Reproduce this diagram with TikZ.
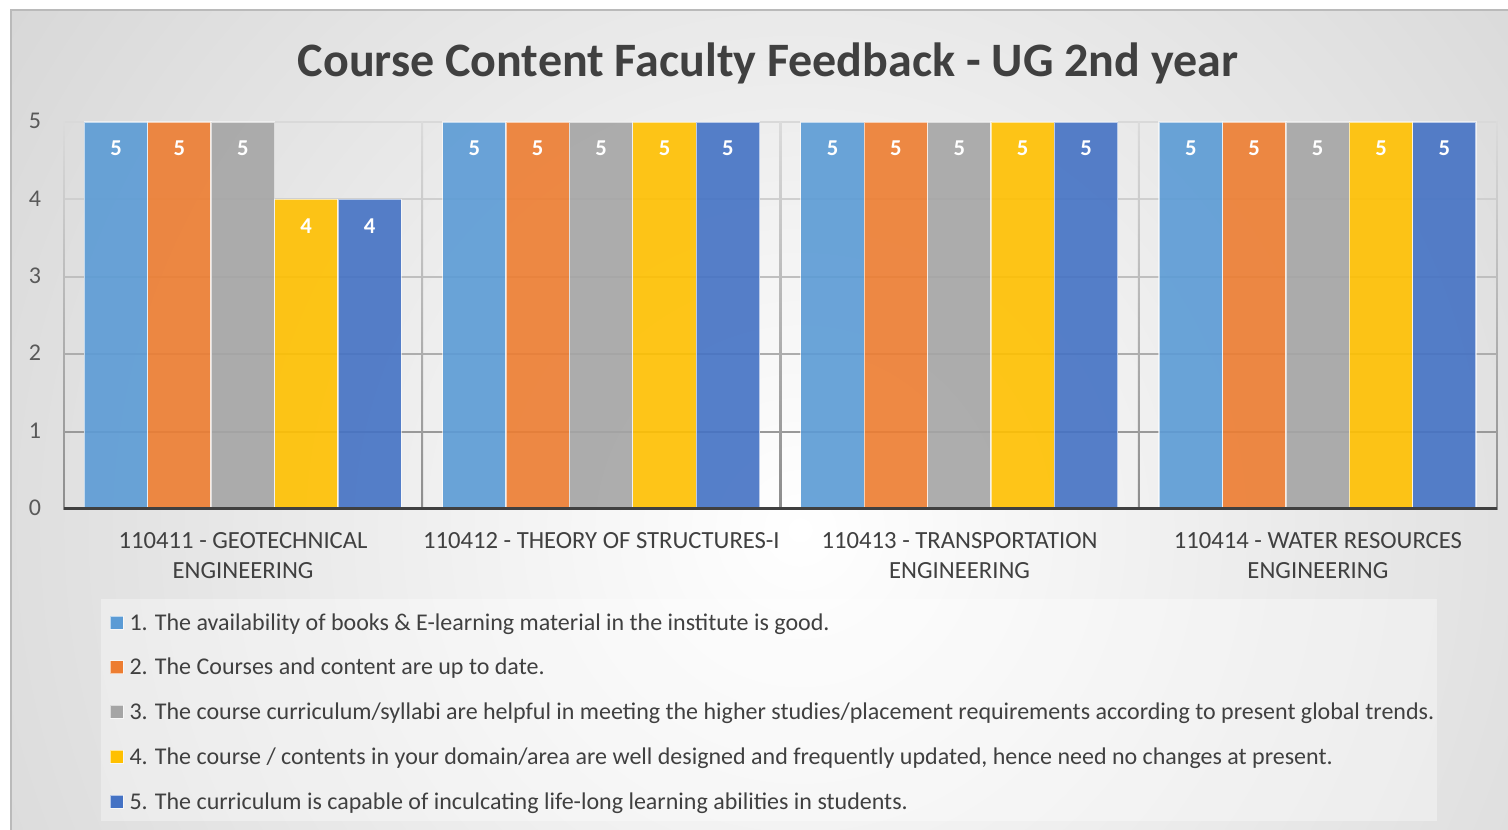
\documentclass[tikz,border=0pt]{standalone}
\usepackage{fontspec}
\setmainfont{Carlito}

\definecolor{qOne}{HTML}{5B9BD5}
\definecolor{qTwo}{HTML}{ED7D31}
\definecolor{qThree}{HTML}{A5A5A5}
\definecolor{qFour}{HTML}{FFC000}
\definecolor{qFive}{HTML}{4472C4}
\definecolor{inkDark}{HTML}{404040}
\definecolor{inkTick}{HTML}{595959}

\tikzset{every picture/.style={line width=0.75pt}}
\tikzset{
  barbox/.style={draw=white, draw opacity=0.6, line width=1, fill opacity=0.9},
  valtext/.style={inner sep=0.75pt, text=white, font=\fontsize{17}{20}\selectfont\bfseries},
  ticktext/.style={inner sep=0.75pt, text=inkTick, font=\fontsize{18}{21}\selectfont},
  cattext/.style={inner sep=0.75pt, text=inkDark, align=center, font=\fontsize{18.5}{22.5}\selectfont},
  keytext/.style={inner sep=0.75pt, text=inkDark, font=\fontsize{18}{21}\selectfont},
  keybox/.style={draw=white, draw opacity=0.6, line width=0.75},
  gridvert/.style={top color=black!14, bottom color=black!45},
}

\begin{document}
\begin{tikzpicture}[x=0.75pt,y=0.75pt,yscale=-1,xscale=1]
\useasboundingbox (0,0) rectangle (1508,830); %set diagram left start at 0, and has height of 830

%Shape: Chart background
\begin{scope}
\clip (11,10) rectangle (1508,830);
\shade [inner color=white, outer color=black!26] (800,530) circle [radius=1600];
\end{scope}
%Straight Lines: chart frame
\draw [color=black!27, line width=1.2] (11,830) -- (11,10) -- (1508,10) ;

%Straight Lines: horizontal grid
\draw [color=black!15, line width=1.5] (64,122) -- (1497,122) ;
\draw [color=black!19, line width=1.5] (64,199.4) -- (1497,199.4) ;
\draw [color=black!25, line width=1.5] (64,276.8) -- (1497,276.8) ;
\draw [color=black!32, line width=1.5] (64,354.2) -- (1497,354.2) ;
\draw [color=black!40, line width=1.5] (64,431.6) -- (1497,431.6) ;
%Shape: vertical grid
\shade [gridvert] (63.2,122) rectangle (64.8,509) ;
\shade [gridvert] (421.4,122) rectangle (423,509) ;
\shade [gridvert] (779.7,122) rectangle (781.3,509) ;
\shade [gridvert] (1137.9,122) rectangle (1139.5,509) ;
\shade [gridvert] (1496.2,122) rectangle (1497.8,509) ;

%Shape: Rectangle [id:bar11]
\draw [barbox, fill=qOne] (84.3,122) rectangle (147.7,509) ;
%Shape: Rectangle [id:bar12]
\draw [barbox, fill=qTwo] (147.7,122) rectangle (211.1,509) ;
%Shape: Rectangle [id:bar13]
\draw [barbox, fill=qThree] (211.1,122) rectangle (274.5,509) ;
%Shape: Rectangle [id:bar14]
\draw [barbox, fill=qFour] (274.5,199.4) rectangle (337.9,509) ;
%Shape: Rectangle [id:bar15]
\draw [barbox, fill=qFive] (337.9,199.4) rectangle (401.3,509) ;
%Shape: Rectangle [id:bar21]
\draw [barbox, fill=qOne] (442.6,122) rectangle (506,509) ;
%Shape: Rectangle [id:bar22]
\draw [barbox, fill=qTwo] (506,122) rectangle (569.4,509) ;
%Shape: Rectangle [id:bar23]
\draw [barbox, fill=qThree] (569.4,122) rectangle (632.8,509) ;
%Shape: Rectangle [id:bar24]
\draw [barbox, fill=qFour] (632.8,122) rectangle (696.2,509) ;
%Shape: Rectangle [id:bar25]
\draw [barbox, fill=qFive] (696.2,122) rectangle (759.6,509) ;
%Shape: Rectangle [id:bar31]
\draw [barbox, fill=qOne] (800.8,122) rectangle (864.2,509) ;
%Shape: Rectangle [id:bar32]
\draw [barbox, fill=qTwo] (864.2,122) rectangle (927.6,509) ;
%Shape: Rectangle [id:bar33]
\draw [barbox, fill=qThree] (927.6,122) rectangle (991,509) ;
%Shape: Rectangle [id:bar34]
\draw [barbox, fill=qFour] (991,122) rectangle (1054.4,509) ;
%Shape: Rectangle [id:bar35]
\draw [barbox, fill=qFive] (1054.4,122) rectangle (1117.8,509) ;
%Shape: Rectangle [id:bar41]
\draw [barbox, fill=qOne] (1159.1,122) rectangle (1222.5,509) ;
%Shape: Rectangle [id:bar42]
\draw [barbox, fill=qTwo] (1222.5,122) rectangle (1285.9,509) ;
%Shape: Rectangle [id:bar43]
\draw [barbox, fill=qThree] (1285.9,122) rectangle (1349.3,509) ;
%Shape: Rectangle [id:bar44]
\draw [barbox, fill=qFour] (1349.3,122) rectangle (1412.7,509) ;
%Shape: Rectangle [id:bar45]
\draw [barbox, fill=qFive] (1412.7,122) rectangle (1476.1,509) ;

%Straight Lines: category axis
\draw [color=inkDark, line width=2.6] (64,508.5) -- (1497,508.5) ;

% Text Node
\draw (768,77) node [anchor=base][inner sep=0.75pt] [text=inkDark, font=\fontsize{36}{43}\selectfont\bfseries] (title) {Course Content Faculty Feedback - UG 2nd year};

% Text Node
\draw (35,121) node [ticktext] (t5) {5};
% Text Node
\draw (35,198.4) node [ticktext] (t4) {4};
% Text Node
\draw (35,275.8) node [ticktext] (t3) {3};
% Text Node
\draw (35,353.2) node [ticktext] (t2) {2};
% Text Node
\draw (35,430.6) node [ticktext] (t1) {1};
% Text Node
\draw (35,508) node [ticktext] (t0) {0};

% Text Node
\draw (116,148) node [valtext] (v11) {5};
% Text Node
\draw (179.4,148) node [valtext] (v12) {5};
% Text Node
\draw (242.8,148) node [valtext] (v13) {5};
% Text Node
\draw (306.2,226) node [valtext] (v14) {4};
% Text Node
\draw (369.6,226) node [valtext] (v15) {4};
% Text Node
\draw (474.3,148) node [valtext] (v21) {5};
% Text Node
\draw (537.7,148) node [valtext] (v22) {5};
% Text Node
\draw (601.1,148) node [valtext] (v23) {5};
% Text Node
\draw (664.5,148) node [valtext] (v24) {5};
% Text Node
\draw (727.9,148) node [valtext] (v25) {5};
% Text Node
\draw (832.5,148) node [valtext] (v31) {5};
% Text Node
\draw (895.9,148) node [valtext] (v32) {5};
% Text Node
\draw (959.3,148) node [valtext] (v33) {5};
% Text Node
\draw (1022.7,148) node [valtext] (v34) {5};
% Text Node
\draw (1086.1,148) node [valtext] (v35) {5};
% Text Node
\draw (1190.8,148) node [valtext] (v41) {5};
% Text Node
\draw (1254.2,148) node [valtext] (v42) {5};
% Text Node
\draw (1317.6,148) node [valtext] (v43) {5};
% Text Node
\draw (1381,148) node [valtext] (v44) {5};
% Text Node
\draw (1444.4,148) node [valtext] (v45) {5};

% Text Node
\draw (243.1,531) node [anchor=north] [cattext] (cat1) {110411 - GEOTECHNICAL\\ENGINEERING};
% Text Node
\draw (601.4,531) node [anchor=north] [cattext] (cat2) {110412 - THEORY OF STRUCTURES-I};
% Text Node
\draw (959.6,531) node [anchor=north] [cattext] (cat3) {110413 - TRANSPORTATION\\ENGINEERING};
% Text Node
\draw (1317.9,531) node [anchor=north] [cattext] (cat4) {110414 - WATER RESOURCES\\ENGINEERING};

%Shape: Legend box
\fill [color=white, opacity=0.35] (101,599) rectangle (1437,821) ;
%Shape: Legend keys
\draw [keybox, fill=qOne] (110,616) rectangle (123,629) ;
\draw [keybox, fill=qTwo] (110,660.5) rectangle (123,673.5) ;
\draw [keybox, fill=qThree] (110,705) rectangle (123,718) ;
\draw [keybox, fill=qFour] (110,750) rectangle (123,763) ;
\draw [keybox, fill=qFive] (110,795) rectangle (123,808) ;
% Text Node
\draw (128,630) node [anchor=base west] [keytext] (k1) {1. The availability of books \& E-learning material in the institute is good.};
% Text Node
\draw (128,674.5) node [anchor=base west] [keytext] (k2) {2. The Courses and content are up to date.};
% Text Node
\draw (128,719) node [anchor=base west] [keytext] (k3) {3. The course curriculum/syllabi are helpful in meeting the higher studies/placement requirements according to present global trends.};
% Text Node
\draw (128,764) node [anchor=base west] [keytext] (k4) {4. The course / contents in your domain/area are well designed and frequently updated, hence need no changes at present.};
% Text Node
\draw (128,809) node [anchor=base west] [keytext] (k5) {5. The curriculum is capable of inculcating life-long learning abilities in students.};

\end{tikzpicture}
\end{document}
